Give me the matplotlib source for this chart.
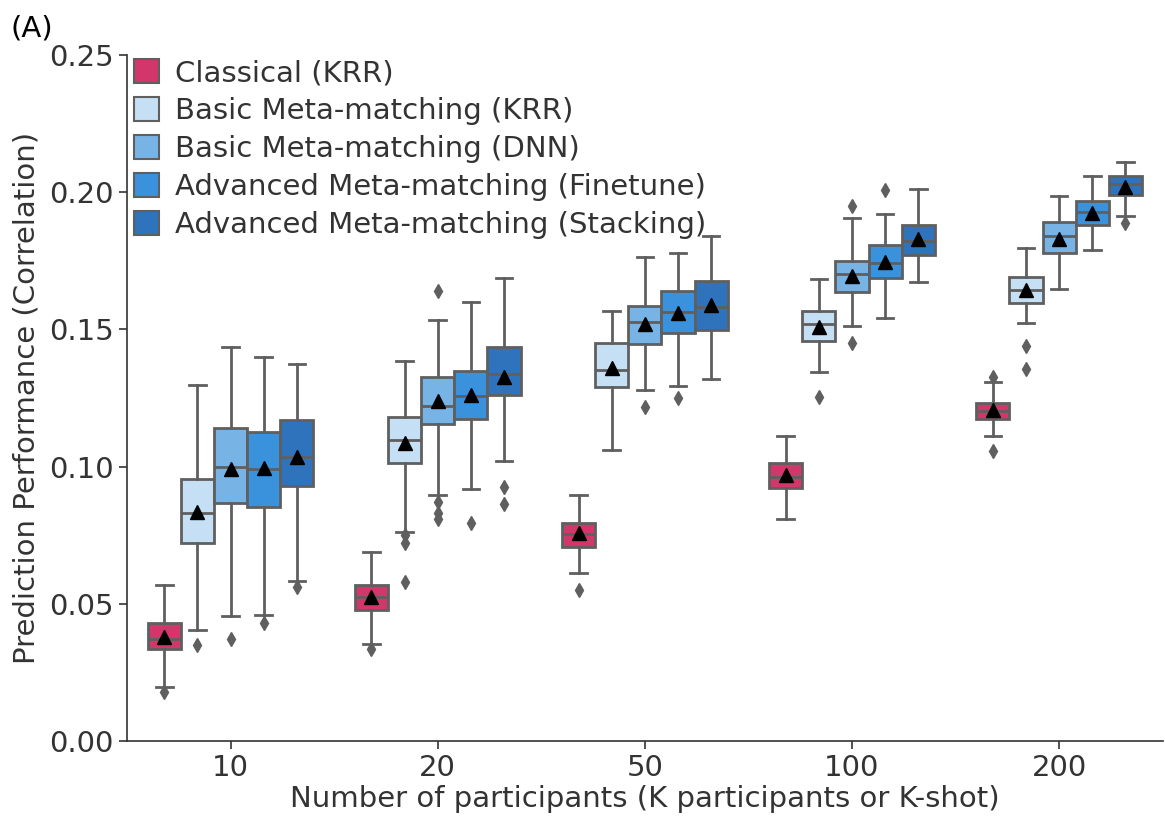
import matplotlib
matplotlib.use("Agg")
import matplotlib.pyplot as plt
from matplotlib.patches import Patch

groups = ["10", "20", "50", "100", "200"]
methods = ["Classical (KRR)", "Basic Meta-matching (KRR)", "Basic Meta-matching (DNN)",
           "Advanced Meta-matching (Finetune)", "Advanced Meta-matching (Stacking)"]
colors = ["#d3366a", "#c5dff4", "#78b3e6", "#3a92dc", "#2e73bb"]

# Classical (KRR)
cls_whislo = [0.0197, 0.0354, 0.0612, 0.0809, 0.1112]
cls_q1 = [0.0335, 0.0477, 0.0707, 0.0922, 0.1173]
cls_med = [0.0372, 0.0525, 0.0754, 0.0962, 0.1203]
cls_q3 = [0.0430, 0.0569, 0.0794, 0.1013, 0.1232]
cls_whishi = [0.0569, 0.0689, 0.0896, 0.1112, 0.1308]
cls_mean = [0.0380, 0.0525, 0.0758, 0.0970, 0.1207]
cls_fliers = [[0.0179], [0.0335], [0.0550], [], [0.1327, 0.1057]]

# Basic Meta-matching (KRR)
bkrr_whislo = [0.0405, 0.0762, 0.1061, 0.1345, 0.1523]
bkrr_q1 = [0.0722, 0.1013, 0.1290, 0.1458, 0.1596]
bkrr_med = [0.0831, 0.1097, 0.1352, 0.1520, 0.1644]
bkrr_q3 = [0.0955, 0.1180, 0.1450, 0.1567, 0.1691]
bkrr_whishi = [0.1297, 0.1385, 0.1567, 0.1684, 0.1797]
bkrr_mean = [0.0835, 0.1085, 0.1358, 0.1510, 0.1645]
bkrr_fliers = [[0.0350], [0.0749, 0.0723, 0.0581], [], [0.1254], [0.1440, 0.1356]]

# Basic Meta-matching (DNN)
bdnn_whislo = [0.0456, 0.0896, 0.1279, 0.1512, 0.1647]
bdnn_q1 = [0.0867, 0.1155, 0.1447, 0.1636, 0.1778]
bdnn_med = [0.0999, 0.1221, 0.1527, 0.1702, 0.1840]
bdnn_q3 = [0.1141, 0.1327, 0.1585, 0.1749, 0.1891]
bdnn_whishi = [0.1436, 0.1534, 0.1764, 0.1906, 0.1986]
bdnn_mean = [0.0992, 0.1240, 0.1520, 0.1695, 0.1830]
bdnn_fliers = [[0.0372], [0.1640, 0.0871, 0.0831, 0.0809], [0.1217], [0.1950, 0.1450], []]

# Advanced Meta-matching (Finetune)
fine_whislo = [0.0459, 0.0918, 0.1294, 0.1542, 0.1789]
fine_q1 = [0.0853, 0.1173, 0.1487, 0.1687, 0.1880]
fine_med = [0.0991, 0.1257, 0.1563, 0.1742, 0.1928]
fine_q3 = [0.1126, 0.1348, 0.1640, 0.1808, 0.1968]
fine_whishi = [0.1400, 0.1600, 0.1778, 0.1920, 0.2059]
fine_mean = [0.0995, 0.1260, 0.1560, 0.1745, 0.1925]
fine_fliers = [[0.0430], [0.0794], [0.1250], [0.2008], []]

# Advanced Meta-matching (Stacking)
stk_whislo = [0.0583, 0.1020, 0.1319, 0.1673, 0.1913]
stk_q1 = [0.0929, 0.1261, 0.1498, 0.1771, 0.1990]
stk_med = [0.1035, 0.1337, 0.1582, 0.1822, 0.2030]
stk_q3 = [0.1170, 0.1436, 0.1676, 0.1880, 0.2059]
stk_whishi = [0.1374, 0.1687, 0.1840, 0.2012, 0.2110]
stk_mean = [0.1035, 0.1325, 0.1590, 0.1830, 0.2020]
stk_fliers = [[0.0561], [0.0926, 0.0864], [], [], [0.1888]]

series = [
    (cls_whislo, cls_q1, cls_med, cls_q3, cls_whishi, cls_mean, cls_fliers),
    (bkrr_whislo, bkrr_q1, bkrr_med, bkrr_q3, bkrr_whishi, bkrr_mean, bkrr_fliers),
    (bdnn_whislo, bdnn_q1, bdnn_med, bdnn_q3, bdnn_whishi, bdnn_mean, bdnn_fliers),
    (fine_whislo, fine_q1, fine_med, fine_q3, fine_whishi, fine_mean, fine_fliers),
    (stk_whislo, stk_q1, stk_med, stk_q3, stk_whishi, stk_mean, stk_fliers),
]

plt.rcParams['font.family'] = ['DejaVu Sans']
text_col = '#333333'
edge_col = '#5f5f5f'
fs = 21

fig = plt.figure(figsize=(11.65, 8.16), dpi=100)
ax = fig.add_axes([0.109, 0.092, 0.889, 0.8405])

n = len(methods)
bw = 0.8 / n
for j, (wlo, q1, med, q3, whi, mean, fl) in enumerate(series):
    stats = []
    for i in range(len(groups)):
        stats.append(dict(whislo=wlo[i], q1=q1[i], med=med[i], q3=q3[i], whishi=whi[i],
                          mean=mean[i], fliers=fl[i]))
    pos = [i - 0.4 + bw * (j + 0.5) for i in range(len(groups))]
    ax.bxp(stats, positions=pos, widths=bw, patch_artist=True, showmeans=True,
           boxprops=dict(facecolor=colors[j], edgecolor=edge_col, linewidth=2),
           whiskerprops=dict(color=edge_col, linewidth=2),
           capprops=dict(color=edge_col, linewidth=2),
           medianprops=dict(color=edge_col, linewidth=2),
           meanprops=dict(marker='^', markerfacecolor='black', markeredgecolor='black', markersize=10),
           flierprops=dict(marker='d', markerfacecolor=edge_col, markeredgecolor=edge_col, markersize=7),
           manage_ticks=False, zorder=3)

ax.set_xlim(-0.5, len(groups) - 0.5)
ax.set_ylim(0, 0.25)
ax.set_xticks(range(len(groups)))
ax.set_xticklabels(groups)
ax.set_yticks([0, 0.05, 0.10, 0.15, 0.20, 0.25])
ax.set_yticklabels(["0.00", "0.05", "0.10", "0.15", "0.20", "0.25"])
ax.tick_params(labelsize=fs, colors=text_col, length=6, width=1.2, labelcolor=text_col)
for s in ['top', 'right']:
    ax.spines[s].set_visible(False)
for s in ['left', 'bottom']:
    ax.spines[s].set_color(text_col)
    ax.spines[s].set_linewidth(1.2)

ax.set_xlabel("Number of participants (K participants or K-shot)", fontsize=fs, color=text_col, labelpad=2)
ax.set_ylabel("Prediction Performance (Correlation)", fontsize=fs, color=text_col, labelpad=6)

handles = [Patch(facecolor=c, edgecolor=edge_col, linewidth=1.5) for c in colors]
leg = ax.legend(handles, methods, loc='upper left', bbox_to_anchor=(0.0, 1.005), frameon=False,
                fontsize=fs, handlelength=0.85, handleheight=0.9, handletextpad=0.55,
                labelspacing=0.34, borderaxespad=0.15, borderpad=0.1)
for t in leg.get_texts():
    t.set_color(text_col)

fig.text(0.009, 0.955, "(A)", fontsize=fs, color='black')

fig.savefig("out.png", dpi=100)
